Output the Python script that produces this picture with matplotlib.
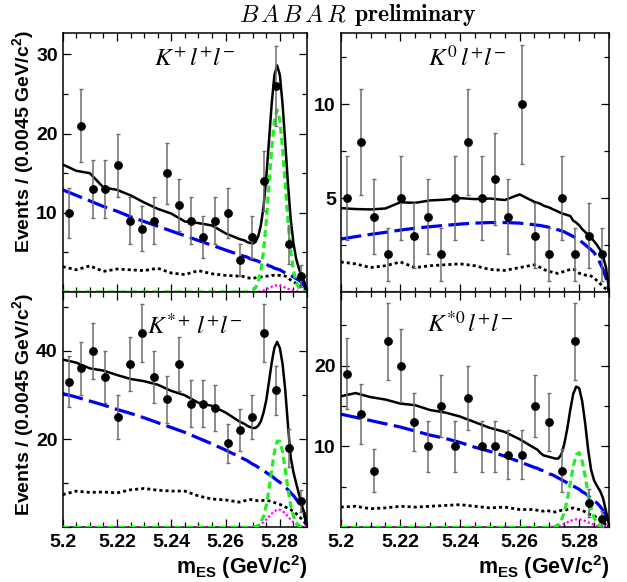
import numpy as np
import matplotlib
matplotlib.use("Agg")
import matplotlib.pyplot as plt
from matplotlib.ticker import MultipleLocator, FormatStrFormatter, FuncFormatter

plt.rcParams['font.family'] = ['Liberation Sans', 'DejaVu Sans']
plt.rcParams['mathtext.fontset'] = 'custom'
plt.rcParams['mathtext.rm'] = 'Liberation Sans:bold'
plt.rcParams['mathtext.bf'] = 'Liberation Sans:bold'
plt.rcParams['mathtext.it'] = 'Liberation Sans:italic:bold'

# ---------------- data ----------------
MES_CENTERS = [5.20225, 5.20675, 5.21125, 5.21575, 5.22025, 5.22475, 5.22925, 5.23375,
               5.23825, 5.24275, 5.24725, 5.25175, 5.25625, 5.26075, 5.26525, 5.26975,
               5.27425, 5.27875, 5.28325, 5.28775]

KP_COUNTS = [10, 21, 13, 13, 16, 9, 8, 9, 15, 11, 9, 7, 9, 10, 4, 7, 14, 26, 6, 2]
K0_COUNTS = [5, 8, 4, 2, 5, 3, 4, 2, 5, 8, 5, 6, 4, 10, 3, 2, 5, 2, 3, 2]
KSP_COUNTS = [33, 36, 40, 34, 25, 37, 44, 34, 29, 37, 28, 28, 27, 19, 22, 25, 44, 31, 18, 6]
KS0_COUNTS = [19, 14, 7, 23, 20, 13, 10, 15, 10, 16, 10, 10, 9, 9, 15, 13, 7, 23, 3, 1]

X_FIT = [5.200, 5.205, 5.210, 5.215, 5.220, 5.225, 5.230, 5.235, 5.240, 5.245, 5.250,
         5.255, 5.260, 5.265,
         5.266, 5.267, 5.268, 5.269, 5.270, 5.271, 5.272, 5.273, 5.274, 5.275, 5.276,
         5.277, 5.278, 5.279, 5.280, 5.281, 5.282, 5.283, 5.284, 5.285, 5.286, 5.287,
         5.288, 5.289, 5.290]

# K+ l+ l-
KP_TOTAL = [16.1, 15.3, 15.0, 13.2, 12.9, 12.2, 11.3, 10.5, 9.9, 8.9, 8.7, 8.4, 7.4, 6.7,
            6.6, 6.5, 6.3, 6.2, 6.1, 6.3, 7.0, 8.4, 10.8, 14.5, 19.1, 23.8, 27.4, 28.6, 27.4,
            23.7, 18.8, 13.6, 9.2, 6.2, 4.2, 3.0, 2.0, 1.3, 0.3]
KP_BLUE = [12.9, 12.2, 11.5, 10.8, 10.2, 9.5, 8.9, 8.3, 7.7, 7.1, 6.5, 5.9, 5.3, 4.7,
           4.6, 4.5, 4.4, 4.2, 4.1, 4.0, 3.9, 3.7, 3.6, 3.5, 3.3, 3.2, 3.0, 2.9, 2.8,
           2.6, 2.4, 2.2, 2.1, 1.9, 1.7, 1.5, 1.2, 0.8, 0.0]
KP_DOTTED = [3.2, 2.8, 3.3, 2.6, 2.9, 2.8, 2.7, 3.0, 2.4, 2.2, 2.7, 2.3, 2.1, 2.0,
             2.0, 1.9, 1.8, 1.75, 1.7, 1.8, 1.85, 1.9, 1.95, 2.0, 2.0, 2.1, 2.1, 2.1, 2.1,
             2.1, 2.0, 1.8, 1.5, 1.3, 1.1, 0.9, 0.6, 0.4, 0.1]
KP_SIGNAL = [0.0] * 14 + [0.0, 0.0, 0.02, 0.06, 0.19, 0.51, 1.25, 2.7, 5.2, 8.9, 13.5, 18.1,
                          21.7, 23.0, 21.7, 18.1, 13.5, 8.9, 5.2, 2.7, 1.25, 0.51, 0.19,
                          0.06, 0.0]
KP_PEAKING = [0.0] * 14 + [0, 0, 0, 0, 0, 0, 0.05, 0.1, 0.2, 0.35, 0.5, 0.65, 0.8, 0.85,
                           0.8, 0.7, 0.55, 0.4, 0.25, 0.15, 0.08, 0.03, 0, 0, 0]

# K0 l+ l-
K0_TOTAL = [4.47, 4.42, 4.40, 4.45, 4.78, 4.75, 4.88, 4.92, 5.0, 4.95, 4.98, 4.9, 5.2, 4.8,
            4.75, 4.7, 4.6, 4.55, 4.5, 4.42, 4.35, 4.28, 4.2, 4.15, 4.1, 4.05, 3.8, 3.7,
            3.55, 3.35, 3.2, 3.05, 2.9, 2.7, 2.5, 2.25, 1.9, 1.3, 0.1]
K0_BLUE = [2.82, 2.95, 3.07, 3.18, 3.3, 3.4, 3.48, 3.55, 3.62, 3.67, 3.7, 3.7, 3.67, 3.58,
           3.56, 3.54, 3.51, 3.48, 3.44, 3.40, 3.36, 3.31, 3.26, 3.20, 3.12, 3.04, 2.96,
           2.87, 2.77, 2.65, 2.52, 2.38, 2.25, 2.1, 1.85, 1.55, 1.2, 0.75, 0.0]
K0_DOTTED = [1.6, 1.5, 1.3, 1.4, 1.6, 1.3, 1.4, 1.45, 1.5, 1.4, 1.2, 1.15, 1.3, 1.45,
             1.4, 1.3, 1.2, 1.15, 1.1, 1.05, 1.0, 1.0, 1.05, 1.1, 1.15, 1.2, 1.2, 1.15, 1.0,
             0.95, 0.9, 0.9, 0.85, 0.75, 0.6, 0.45, 0.3, 0.15, 0.05]
K0_SIGNAL = [0.0] * 39
K0_PEAKING = [0.0] * 39

# K*+ l+ l-
KSP_TOTAL = [38.0, 37.3, 36.0, 35.5, 34.5, 33.6, 33.1, 32.3, 30.9, 29.9, 28.2, 27.5, 26.0, 24.0,
             23.7, 23.4, 23.0, 22.7, 22.5, 22.5, 23.0, 24.0, 26.0, 28.8, 33.0, 37.3, 40.7,
             42.0, 40.6, 37.0, 31.0, 23.0, 15.8, 12.5, 10.0, 7.6, 5.3, 3.0, 0.5]
KSP_BLUE = [30.3, 29.5, 28.6, 27.7, 26.7, 25.8, 24.8, 23.7, 22.6, 21.5, 20.2, 18.9, 17.5, 16.0,
            15.7, 15.4, 15.1, 14.7, 14.3, 14.0, 13.6, 13.2, 12.8, 12.4, 12.0, 11.6, 11.1,
            10.6, 10.2, 9.6, 9.1, 8.5, 7.8, 7.2, 6.4, 5.5, 4.5, 3.2, 0.0]
KSP_DOTTED = [7.4, 8.2, 7.9, 8.0, 7.8, 8.5, 8.8, 8.4, 8.2, 8.2, 7.1, 6.4, 6.2, 5.7,
              5.8, 6.0, 6.2, 6.3, 6.2, 6.1, 6.0, 6.0, 6.1, 6.1, 6.0, 5.8, 5.6, 5.4, 5.2,
              4.9, 4.6, 4.3, 4.0, 3.6, 3.1, 2.5, 1.9, 1.2, 0.4]
KSP_SIGNAL = [0.0] * 14 + [0, 0, 0, 0, 0.04, 0.14, 0.42, 1.1, 2.5, 5.0, 8.6, 13.0, 17.1, 19.5,
                           19.5, 17.1, 13.0, 8.6, 5.0, 2.5, 1.1, 0.42, 0.14, 0.04, 0]
KSP_PEAKING = [0.0] * 14 + [0, 0, 0, 0.04, 0.1, 0.21, 0.4, 0.71, 1.16, 1.75, 2.43, 3.1, 3.65,
                            3.96, 3.96, 3.65, 3.1, 2.43, 1.75, 1.16, 0.71, 0.4, 0.21, 0.1, 0]

# K*0 l+ l-
KS0_TOTAL = [16.2, 16.6, 16.1, 15.8, 15.3, 15.1, 14.5, 14.2, 13.7, 13.0, 12.3, 11.8, 10.9, 9.8,
             9.6, 9.2, 8.9, 8.8, 8.7, 8.6, 8.5, 8.5, 9.0, 10.3, 12.2, 14.5, 16.5, 17.4, 17.2,
             15.6, 12.9, 9.6, 7.1, 5.8, 5.1, 4.5, 3.6, 2.0, 0.3]
KS0_BLUE = [14.0, 13.6, 13.2, 12.8, 12.4, 11.9, 11.4, 11.0, 10.5, 9.9, 9.4, 8.8, 8.1, 7.4,
            7.3, 7.1, 7.0, 6.8, 6.6, 6.5, 6.3, 6.1, 5.9, 5.7, 5.5, 5.3, 5.1, 4.9, 4.7,
            4.4, 4.2, 3.9, 3.6, 3.3, 3.0, 2.6, 2.1, 1.5, 0.0]
KS0_DOTTED = [2.5, 2.6, 2.3, 2.4, 2.6, 2.5, 2.6, 2.7, 2.8, 2.6, 2.4, 2.5, 2.2, 2.2,
              2.1, 2.0, 2.0, 2.1, 2.0, 1.9, 1.9, 2.0, 2.1, 2.1, 2.2, 2.3, 2.4, 2.3, 2.2,
              2.1, 1.9, 1.7, 1.5, 1.4, 1.2, 0.9, 0.6, 0.3, 0.1]
KS0_SIGNAL = [0.0] * 14 + [0, 0, 0, 0, 0, 0.03, 0.12, 0.34, 0.84, 1.82, 3.38, 5.43, 7.51, 8.97,
                           9.24, 8.2, 6.29, 4.16, 2.37, 1.17, 0.49, 0.18, 0.06, 0.02, 0]
KS0_PEAKING = [0.0] * 14 + [0, 0, 0, 0, 0.03, 0.05, 0.1, 0.18, 0.29, 0.44, 0.61, 0.78, 0.91,
                            0.99, 0.99, 0.91, 0.78, 0.61, 0.44, 0.29, 0.18, 0.1, 0.05, 0.03, 0]

PANEL_LABELS = [r'$K^{+}\,l^{+}l^{-}$', r'$K^{0}\,l^{+}l^{-}$',
                r'$K^{*+}\,l^{+}l^{-}$', r'$K^{*0}\,l^{+}l^{-}$']
TITLE_LOGO = r'$\mathit{B\,A\,B\,A\,R}$'
TITLE_WORD = r'$\mathbf{preliminary}$'
YLABEL = 'Events / (0.0045 GeV/c$^{\\mathbf{2}}$)'
XLABEL = 'm$_{\\mathbf{ES}}$ (GeV/c$^{\\mathbf{2}}$)'

# ---------------- figure ----------------
W, H = 627, 582
fig = plt.figure(figsize=(W / 100, H / 100), dpi=100)


def fx(px):
    return px / W


def fy(py):
    return 1 - py / H


L1, R1, L2, R2 = 62.7, 307.0, 340.7, 609.0
T1, M, B2 = 33.0, 292.0, 527.3

axes_boxes = [
    (L1, T1, R1, M), (L2, T1, R2, M),
    (L1, M, R1, B2), (L2, M, R2, B2),
]

panels = [
    (KP_COUNTS, KP_TOTAL, KP_BLUE, KP_DOTTED, KP_SIGNAL, KP_PEAKING, 32.7, 10, 5, (0.54, 0.90)),
    (K0_COUNTS, K0_TOTAL, K0_BLUE, K0_DOTTED, K0_SIGNAL, K0_PEAKING, 13.8, 5, 2.5, (0.47, 0.90)),
    (KSP_COUNTS, KSP_TOTAL, KSP_BLUE, KSP_DOTTED, KSP_SIGNAL, KSP_PEAKING, 53.3, 20, 10, (0.54, 0.855)),
    (KS0_COUNTS, KS0_TOTAL, KS0_BLUE, KS0_DOTTED, KS0_SIGNAL, KS0_PEAKING, 29.1, 10, 5, (0.485, 0.86)),
]

no_zero = FuncFormatter(lambda v, p: '' if abs(v) < 1e-9 else '%g' % v)

all_axes = []
for i, ((l, t, r, b), (counts, total, blue, dotted, sig, peak, ymax, maj, mnr, lxy)) in \
        enumerate(zip(axes_boxes, panels)):
    ax = fig.add_axes([fx(l), fy(b), fx(r) - fx(l), fy(t) - fy(b)])
    all_axes.append(ax)
    ax.plot(X_FIT, blue, color='#0000f0', lw=2.3, dashes=(6.5, 2.0), zorder=2)
    ax.plot(X_FIT, dotted, color='black', lw=2.0, dashes=(1.1, 1.1), zorder=2)
    ax.plot(X_FIT, peak, color='#ff00ff', lw=1.6, dashes=(1.0, 1.0), zorder=3)
    ax.plot(X_FIT, sig, color='#22ee22', lw=2.3, dashes=(2.2, 1.3), zorder=3)
    ax.plot(X_FIT, total, color='black', lw=1.8, zorder=4)
    c = np.array(counts, dtype=float)
    ax.errorbar(MES_CENTERS, c, yerr=np.sqrt(c), fmt='o', color='black',
                ecolor='#6e6e6e', elinewidth=1.1, capsize=1.6, capthick=1.0,
                markersize=5.3, zorder=5)
    ax.set_xlim(5.2, 5.29)
    ax.set_ylim(0, ymax)
    ax.xaxis.set_major_locator(MultipleLocator(0.02))
    ax.xaxis.set_minor_locator(MultipleLocator(0.005))
    ax.yaxis.set_major_locator(MultipleLocator(maj))
    ax.yaxis.set_minor_locator(MultipleLocator(mnr))
    ax.xaxis.set_major_formatter(FormatStrFormatter('%g'))
    ax.yaxis.set_major_formatter(no_zero)
    ax.tick_params(which='both', direction='in', top=True, right=True, width=0.9,
                   labelsize=14)
    ax.tick_params(which='major', length=6)
    ax.tick_params(which='minor', length=3.5)
    ax.tick_params(axis='x', pad=5)
    ax.tick_params(axis='y', pad=3.5)
    for s in ax.spines.values():
        s.set_linewidth(1.1)
    if i < 2:
        ax.tick_params(labelbottom=False)
    ax.text(lxy[0], lxy[1], PANEL_LABELS[i], transform=ax.transAxes, ha='center',
            va='center', fontsize=18, math_fontfamily='stix', zorder=6)

fig.text(fx(347), fy(15), TITLE_LOGO, math_fontfamily='cm', fontsize=17.5, ha='right', va='center')
fig.text(fx(354), fy(15), TITLE_WORD, math_fontfamily='cm', fontsize=17, ha='left', va='center')
fig.text(fx(23), fy(30), YLABEL, rotation=90, ha='center', va='top', fontsize=14,
         fontweight='bold')
fig.text(fx(23), fy(293), YLABEL, rotation=90, ha='center', va='top', fontsize=14,
         fontweight='bold')
fig.text(fx(R1), fy(567), XLABEL, ha='right', va='center', fontsize=15.5, fontweight='bold')
fig.text(fx(R2), fy(567), XLABEL, ha='right', va='center', fontsize=15.5, fontweight='bold')

fig.canvas.draw()
for ax in all_axes:
    for lab in ax.get_xticklabels() + ax.get_yticklabels():
        lab.set_fontweight('bold')

fig.savefig('out.png', dpi=100)
